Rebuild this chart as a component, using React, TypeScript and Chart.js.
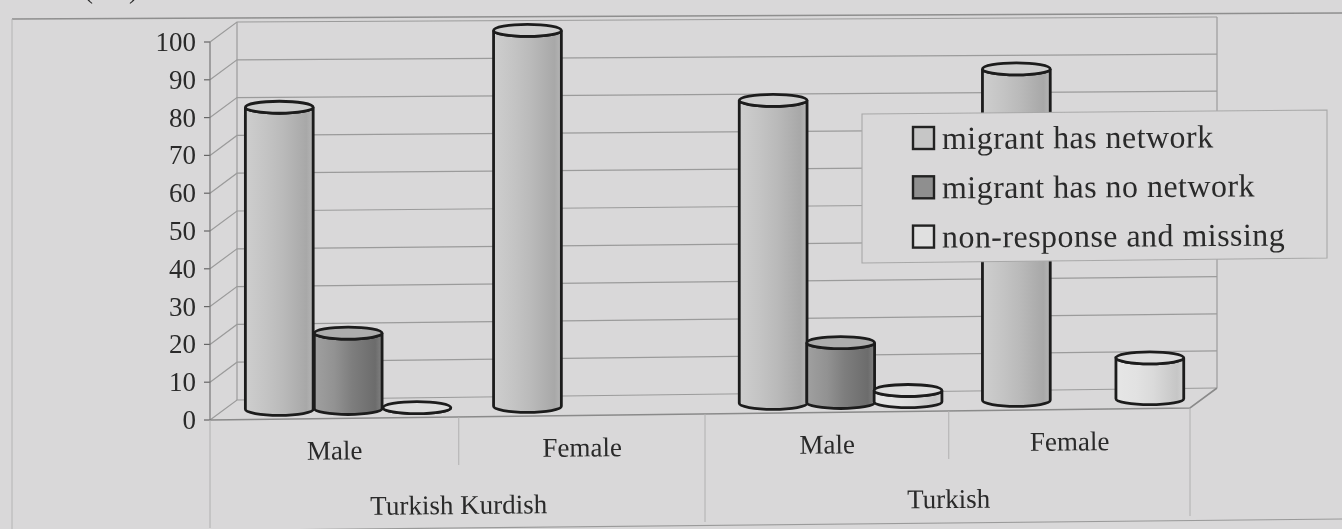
import React, { useEffect, useRef } from "react";
import { Chart, registerables } from "chart.js";

Chart.register(...registerables);

const categories = ["Male", "Female", "Male", "Female"];
const groups = ["Turkish Kurdish", "Turkish"];
const seriesNames = ["migrant has network", "migrant has no network", "non-response and missing"];
const networkValues = [80, 100, 81, 89];
const noNetworkValues = [20, null, 16, null];
const missingValues = [0, null, 3, 11];
const axisTicks = [0, 10, 20, 30, 40, 50, 60, 70, 80, 90, 100];

const BG = "#d9d8d9";
const GRID = "#9b9b9b";
const TEXT = "#2a2a2a";
const SERIF = '"Liberation Serif"';
const DEPTH_X = 27;
const DEPTH_Y = 20;

const fills = [
  { stops: ["#cecece", "#c4c4c4", "#bababa", "#a8a8a8", "#b6b6b6"], top: "#cfcfcf", swatch: "#c6c6c6" },
  { stops: ["#a0a0a0", "#929292", "#7e7e7e", "#6c6c6c", "#828282"], top: "#adadad", swatch: "#8f8f8f" },
  { stops: ["#e6e6e6", "#e2e2e2", "#dadada", "#c6c6c6", "#d2d2d2"], top: "#dddddd", swatch: "#e0e0e0" },
];

function warp(area: any, x: number, y: number, d = 0) {
  const tx = (x - area.left) / (area.right - area.left);
  const ty = (y - area.top) / (area.bottom - area.top);
  return { x: x + 20 * tx * (1 - tx) + DEPTH_X * d, y: y - DEPTH_Y * d - tx * (5 + 7 * ty) };
}

function line(ctx: any, pts: { x: number; y: number }[], color: string, width = 1.2) {
  ctx.beginPath();
  pts.forEach((p, i) => (i ? ctx.lineTo(p.x, p.y) : ctx.moveTo(p.x, p.y)));
  ctx.strokeStyle = color;
  ctx.lineWidth = width;
  ctx.stroke();
}

function text(ctx: any, s: string, x: number, y: number, size: number, align: CanvasTextAlign, tilt = 0) {
  ctx.save();
  ctx.translate(x, y);
  ctx.rotate(tilt);
  ctx.font = `${size}px ${SERIF}`;
  ctx.fillStyle = TEXT;
  ctx.textAlign = align;
  ctx.textBaseline = "alphabetic";
  ctx.fillText(s, 0, 0);
  ctx.restore();
}

const scene = {
  id: "scene",
  beforeDatasetsDraw(chart: any) {
    const { ctx, chartArea: a, scales } = chart;
    const ys = scales.y;
    const xs = scales.x;
    ctx.save();
    // scanned page frame
    line(ctx, [{ x: 12, y: 19 }, { x: 1342, y: 13 }], "#8e8e8e", 1.4);
    line(ctx, [{ x: 12, y: 19 }, { x: 12, y: 529 }], "#b4b4b4", 1);
    line(ctx, [{ x: 260, y: 530 }, { x: 1342, y: 519 }], "#9a9a9a", 1.2);
    text(ctx, "( % )", 84, -2, 27, "left");
    // walls and grid
    axisTicks.forEach((t) => {
      const y = ys.getPixelForValue(t);
      line(ctx, [warp(a, a.left, y), warp(a, a.left, y, 1), warp(a, a.right, y, 1)], GRID, 1.2);
      line(ctx, [{ x: a.left - 6, y }, { x: a.left, y }], "#666", 1.2);
      if (t === 0) line(ctx, [warp(a, a.left, y), warp(a, a.right, y), warp(a, a.right, y, 1)], "#8a8a8a", 1.6);
    });
    line(ctx, [warp(a, a.left, a.top), warp(a, a.left, a.bottom)], "#777", 1.2);
    line(ctx, [warp(a, a.left, a.top, 1), warp(a, a.left, a.bottom, 1)], GRID, 1.2);
    line(ctx, [warp(a, a.right, a.top, 1), warp(a, a.right, a.bottom, 1)], GRID, 1.2);
    // category separators below the floor
    const step = (a.right - a.left) / categories.length;
    [0, 1, 2, 3, 4].forEach((i) => {
      const top = warp(a, a.left + i * step, a.bottom);
      line(ctx, [top, { x: top.x, y: top.y + (i % 2 === 0 ? 108 : 48) }], "#b0b0b0", 1);
    });
    // category labels
    categories.forEach((c, i) => {
      const p = warp(a, xs.getPixelForValue(i), a.bottom);
      text(ctx, c, p.x, p.y + 41, 27, "center", -0.009);
    });
    groups.forEach((g, i) => {
      const p = warp(a, (xs.getPixelForValue(i * 2) + xs.getPixelForValue(i * 2 + 1)) / 2, a.bottom);
      text(ctx, g, p.x, p.y + 97, 27, "center", -0.009);
    });
    ctx.restore();
  },
  afterDatasetsDraw(chart: any) {
    const { ctx, chartArea: a, scales } = chart;
    const base = scales.y.getPixelForValue(0);
    ctx.save();
    categories.forEach((_, i) => {
      chart.data.datasets.forEach((ds: any, k: number) => {
        if (ds.data[i] === null) return;
        const el = chart.getDatasetMeta(k).data[i];
        const top = warp(a, el.x, el.y, 0.5);
        const bot = warp(a, el.x, base, 0.5);
        const rx = el.width / 2;
        const ry = 6;
        const g = ctx.createLinearGradient(top.x - rx, 0, top.x + rx, 0);
        fills[k].stops.forEach((s, n) => g.addColorStop([0, 0.3, 0.55, 0.9, 1][n], s));
        ctx.beginPath();
        ctx.moveTo(top.x - rx, top.y);
        ctx.lineTo(bot.x - rx, bot.y);
        ctx.ellipse(bot.x, bot.y, rx, ry, 0, Math.PI, 0, true);
        ctx.lineTo(top.x + rx, top.y);
        ctx.ellipse(top.x, top.y, rx, ry, 0, 0, Math.PI, false);
        ctx.closePath();
        ctx.fillStyle = g;
        ctx.fill();
        ctx.strokeStyle = "#1c1c1c";
        ctx.lineWidth = 2.8;
        ctx.stroke();
        ctx.beginPath();
        ctx.ellipse(top.x, top.y, rx, ry, 0, 0, Math.PI * 2);
        ctx.fillStyle = fills[k].top;
        ctx.fill();
        ctx.stroke();
      });
    });
    // legend
    ctx.beginPath();
    ctx.moveTo(862, 114);
    ctx.lineTo(1327, 110);
    ctx.lineTo(1327, 258);
    ctx.lineTo(862, 263);
    ctx.closePath();
    ctx.fillStyle = BG;
    ctx.fill();
    ctx.strokeStyle = "#a8a8a8";
    ctx.lineWidth = 1.1;
    ctx.stroke();
    seriesNames.forEach((name, k) => {
      const y = 127 + k * 49.3;
      ctx.fillStyle = fills[k].swatch;
      ctx.strokeStyle = "#222";
      ctx.lineWidth = 2.4;
      ctx.fillRect(913, y, 21, 22);
      ctx.strokeRect(913, y, 21, 22);
      ctx.letterSpacing = "0.45px";
      text(ctx, name, 942, y + 22, 32, "left", -0.006);
      ctx.letterSpacing = "0px";
    });
    ctx.restore();
  },
};

export default function App() {
  const ref = useRef<HTMLCanvasElement>(null);
  useEffect(() => {
    document.body.style.margin = "0";
    document.body.style.background = BG;
    const chart = new Chart(ref.current!, {
      type: "bar",
      data: {
        labels: categories,
        datasets: [
          { label: seriesNames[0], data: networkValues, backgroundColor: "transparent" },
          { label: seriesNames[1], data: noNetworkValues, backgroundColor: "transparent" },
          { label: seriesNames[2], data: missingValues, backgroundColor: "transparent" },
        ],
      },
      plugins: [scene],
      options: {
        animation: false,
        responsive: false,
        layout: { autoPadding: false, padding: { left: 150, right: 152, top: 42, bottom: 109 } },
        plugins: { legend: { display: false }, tooltip: { enabled: false } },
        datasets: { bar: { categoryPercentage: 0.83, barPercentage: 1 } },
        scales: {
          x: {
            grid: { display: false },
            border: { display: false },
            ticks: { display: false },
            afterFit: (s: any) => { s.height = 0; },
          },
          y: {
            min: 0,
            max: 100,
            afterFit: (s: any) => { s.width = 60; },
            grid: { display: false },
            border: { display: false },
            ticks: { stepSize: 10, color: TEXT, padding: 6, labelOffset: 2, font: { family: "Liberation Serif", size: 27 } },
          },
        },
      },
    } as any);
    return () => chart.destroy();
  }, []);
  return <canvas ref={ref} width={1342} height={529} style={{ display: "block", background: BG, filter: "blur(0.6px)" }} />;
}
